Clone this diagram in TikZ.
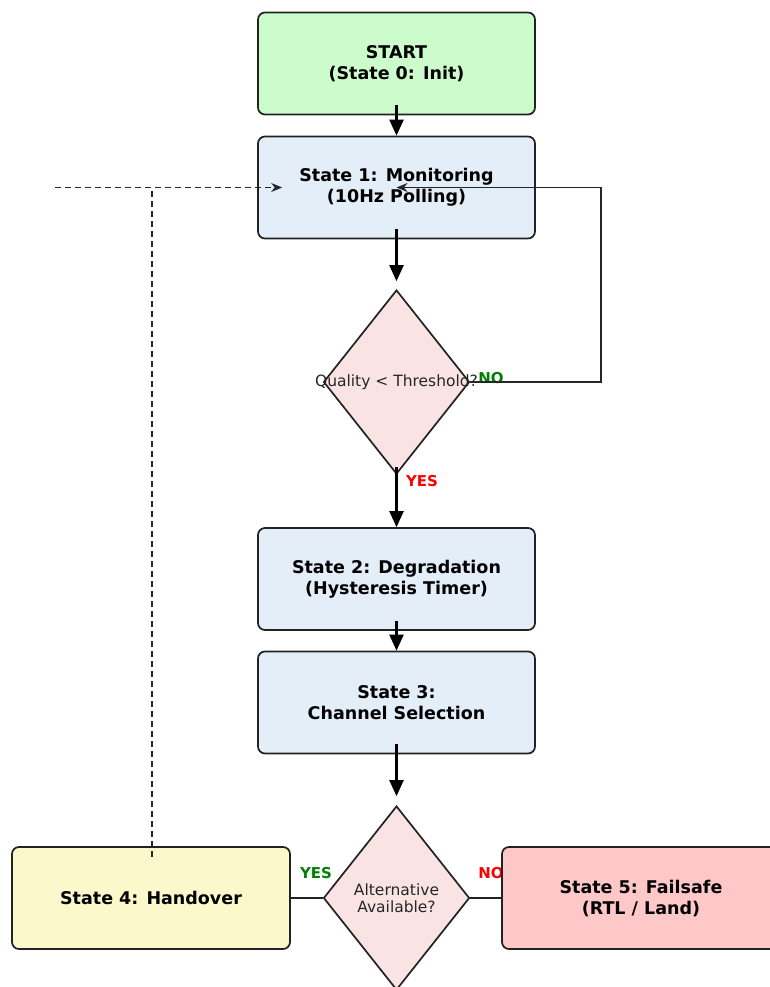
\documentclass[tikz,border=0pt]{standalone}
\usepackage{fontspec}
\setmainfont{DejaVu Sans}
\usetikzlibrary{shapes.geometric,arrows.meta}
\definecolor{startfill}{HTML}{CCFCCC}
\definecolor{statefill}{HTML}{E3EEF9}
\definecolor{decfill}{HTML}{F9E3E3}
\definecolor{handfill}{HTML}{FBF8CC}
\definecolor{failfill}{HTML}{FFC8C8}
\definecolor{edgegray}{HTML}{222222}
\definecolor{yesgreen}{HTML}{008000}
\definecolor{nored}{HTML}{FF0000}
\tikzset{
  statebox/.style={draw=edgegray, line width=1.7pt, rounded corners=7pt,
    minimum width=277pt, minimum height=102pt, inner sep=0pt,
    align=center, font=\bfseries\fontsize{17.5}{21}\selectfont, text=black},
  decision/.style={diamond, draw=edgegray, line width=1.7pt, fill=decfill,
    minimum width=146pt, minimum height=184pt, inner sep=0pt},
  dectext/.style={align=center, font=\fontsize{15.5}{17}\selectfont, text=black!85},
  flow/.style={line width=2.2pt, -{Triangle[length=16pt,width=14pt]}},
  loopline/.style={line width=1.5pt, draw=black!85, -{Stealth[length=11pt,width=9pt]}},
  dashline/.style={line width=1.4pt, dash pattern=on 6pt off 4pt, draw=black!85},
  yeslab/.style={font=\bfseries\fontsize{15}{17}\selectfont},
}
\begin{document}
\begin{tikzpicture}[x=1pt,y=-1pt]
\useasboundingbox (0,0) rectangle (770,987);
\begin{scope}
\clip (0,0) rectangle (770,987);

% branch labels sit under the boxes
\node[yeslab, text=yesgreen] (no1) at (491,378) {NO};
\node[yeslab, text=nored] (yes1) at (422,481) {YES};
\node[yeslab, text=yesgreen] (yes2) at (316,873) {YES};
\node[yeslab, text=nored] (no2) at (491,873) {NO};

% main states
\node[statebox, fill=startfill] (start) at (396.5,63.5) {START\\(State 0: Init)};
\node[statebox, fill=statefill] (s1) at (396.5,187.5) {State 1: Monitoring\\(10Hz Polling)};
\node[decision] (d1) at (396.5,382) {};
\node[dectext] (d1t) at (d1.center) {Quality < Threshold?};
\node[statebox, fill=statefill] (s2) at (396.5,579) {State 2: Degradation\\(Hysteresis Timer)};
\node[statebox, fill=statefill] (s3) at (396.5,702.5) {State 3:\\Channel Selection};
\node[decision] (d2) at (396.5,898) {};
\node[dectext] (d2t) at (d2.center) {Alternative\\Available?};
\node[statebox, fill=handfill, minimum width=278pt] (s4) at (151,898) {State 4: Handover};
\node[statebox, fill=failfill, minimum width=278pt] (s5) at (641,898) {State 5: Failsafe\\(RTL / Land)};

% vertical flow
\draw[flow] ([yshift=10pt]start.south) -- (s1.north);
\draw[flow] ([yshift=10pt]s1.south) -- ([yshift=8pt]d1.north);
\draw[flow] ([yshift=8pt]d1.south) -- (s2.north);
\draw[flow] ([yshift=10pt]s2.south) -- (s3.north);
\draw[flow] ([yshift=10pt]s3.south) -- ([yshift=9pt]d2.north);

% NO branch back to monitoring
\coordinate (loopR) at (601,382);
\draw[loopline] (d1.east) -- (loopR) |- (s1.center);

% branches of the second decision
\draw[line width=2pt, draw=edgegray] (d2.west) -- (s4.east);
\draw[line width=2pt, draw=edgegray] (d2.east) -- (s5.west);

% handover returns to monitoring
\coordinate (retL) at (55,187.5);
\coordinate (retC) at (152,187.5);
\coordinate (retB) at (152,857);
\draw[dashline] (retB) -- (retC);
\draw[dashline, -{Stealth[length=11pt,width=9pt]}] (retL) -- ([xshift=25pt]s1.west);
\end{scope}
\end{tikzpicture}
\end{document}
